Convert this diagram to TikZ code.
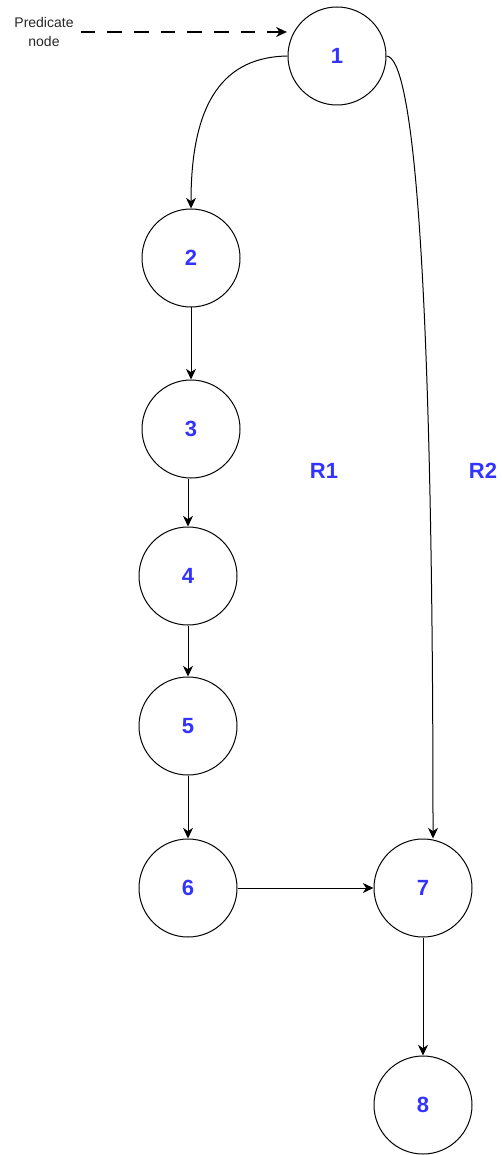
\documentclass[tikz,border=0pt]{standalone}
\usepackage{fontspec}
\setmainfont{Liberation Sans}
\usetikzlibrary{arrows.meta}
\definecolor{numblue}{RGB}{51,51,255}
\begin{document}
\begin{tikzpicture}[x=0.75pt,y=-0.75pt,
  cnode/.style={circle,draw=black,line width=0.75pt,minimum size=73.5pt,inner sep=0pt,
     font=\fontsize{16.5}{19}\selectfont\bfseries,text=numblue},
  conn/.style={line width=0.75pt,-{Stealth[length=8pt,width=7.5pt,inset=2.5pt]}},
  rlabel/.style={font=\fontsize{16.5}{19}\selectfont\bfseries,text=numblue,inner sep=0pt},
]
\useasboundingbox (0,0) rectangle (501,1155);
\node[cnode] (n1) at (337,56) {1};
\node[cnode] (n2) at (191,258) {2};
\node[cnode] (n3) at (191,429) {3};
\node[cnode] (n4) at (188,576) {4};
\node[cnode] (n5) at (188,726) {5};
\node[cnode] (n6) at (188,888) {6};
\node[cnode] (n7) at (423,888) {7};
\node[cnode] (n8) at (423,1105) {8};
\node[align=center,inner sep=0pt,font=\fontsize{10.5}{14}\selectfont,text=black!85] (pred) at (44,32) {Predicate\\node};
\node[rlabel] (r1) at (324,471) {R1};
\node[rlabel] (r2) at (483,471) {R2};
\coordinate (c7top) at ([xshift=7.5pt]n7.north);
\draw[conn,line width=1pt,dash pattern=on 11pt off 9pt] ([xshift=5pt]pred.east |- 0,32) -- ([xshift=-0.5pt]n1.west |- 0,32);
\draw[conn] (n1.west) .. controls (225,57) and (191,100) .. (n2.north);
\draw[conn] (n1.east) .. controls (412,57) and (433,250) .. (c7top);
\draw[conn] (n2.south) -- (n3.north);
\draw[conn] (n4.north |- n3.south) -- (n4.north);
\draw[conn] (n4.south) -- (n5.north);
\draw[conn] (n5.south) -- (n6.north);
\draw[conn] (n6.east) -- (n7.west);
\draw[conn] (n7.south) -- (n8.north);
\end{tikzpicture}
\end{document}
